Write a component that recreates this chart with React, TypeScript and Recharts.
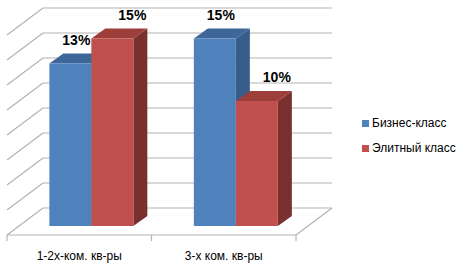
import React from 'react';
import { BarChart, Bar, XAxis, YAxis, CartesianGrid, LabelList } from 'recharts';

const categories = ['1-2х-ком. кв-ры', '3-х ком. кв-ры'];
const businessValues = [13, 15];
const eliteValues = [15, 10];
const seriesNames = ['Бизнес-класс', 'Элитный класс'];
const yTicks = [0, 2, 4, 6, 8, 10, 12, 14, 16];

const data = categories.map((name, i) => ({
  name,
  business: businessValues[i],
  elite: eliteValues[i],
}));

const W = 462;
const H = 268;
const MARGIN = { top: 26, right: 154, bottom: 12, left: 19 };
const XAXIS_H = 30;
const PLOT_BOTTOM = H - MARGIN.bottom - XAXIS_H;

// depth offsets relative to the bar plane
const BACK_DX = 24;
const BACK_DY = -18;
const FRONT_DX = -12;
const FRONT_DY = 9;
const BAR_DX = 14;
const BAR_DY = 10;

const GRID = '#b3b3b3';
const FONT = '"Liberation Sans", Arial, sans-serif';

const COLORS = {
  business: { front: '#4F81BD', top: '#3E6799', side: '#375D8B' },
  elite: { front: '#C0504D', top: '#9D3E3B', side: '#7A302E' },
};

function GridLine(props: any) {
  const { x1, x2, y1 } = props;
  const bx1 = x1 + BACK_DX;
  const bx2 = x2 + BACK_DX;
  const by = y1 + BACK_DY;
  const fx1 = x1 + FRONT_DX;
  const fx2 = x2 + FRONT_DX;
  const fy = y1 + FRONT_DY;
  const isFloor = Math.abs(y1 - PLOT_BOTTOM) < 0.6;
  const mid = (x1 + x2) / 2 + FRONT_DX;
  return (
    <g key={`g-${y1}`}>
      <line x1={bx1} y1={by} x2={bx2} y2={by} stroke={GRID} strokeWidth={1.2} />
      <line x1={fx1} y1={fy} x2={bx1} y2={by} stroke={GRID} strokeWidth={1.2} />
      {isFloor && (
        <g>
          <line x1={fx1} y1={fy} x2={fx2} y2={fy} stroke={GRID} strokeWidth={1.2} />
          <line x1={fx2} y1={fy} x2={bx2} y2={by} stroke={GRID} strokeWidth={1.2} />
          {[fx1, mid, fx2].map((tx) => (
            <line key={tx} x1={tx} y1={fy} x2={tx} y2={fy + 6} stroke={GRID} strokeWidth={1.2} />
          ))}
        </g>
      )}
    </g>
  );
}

function makeShape(c: { front: string; top: string; side: string }) {
  return (props: any) => {
    const { x, y, width, height } = props;
    if (width == null || height == null) return <g />;
    const top = `${x},${y} ${x + width},${y} ${x + width + BAR_DX},${y - BAR_DY} ${x + BAR_DX},${y - BAR_DY}`;
    const side = `${x + width},${y} ${x + width + BAR_DX},${y - BAR_DY} ${x + width + BAR_DX},${y + height - BAR_DY} ${x + width},${y + height}`;
    return (
      <g>
        <polygon points={side} fill={c.side} />
        <polygon points={top} fill={c.top} />
        <rect x={x} y={y} width={width} height={height} fill={c.front} />
      </g>
    );
  };
}

function makeLabel(shiftX: number) {
  return (props: any) => {
    const { x, y, width, value } = props;
    return (
      <text
        x={x + width / 2 + shiftX}
        y={y - 19}
        textAnchor="middle"
        fontFamily={FONT}
        fontWeight="bold"
        fontSize={14}
        fill="#000"
      >
        {`${value}%`}
      </text>
    );
  };
}

function CategoryTick(props: any) {
  const { x, payload } = props;
  return (
    <text
      x={x + FRONT_DX}
      y={PLOT_BOTTOM + 34}
      textAnchor="middle"
      fontFamily={FONT}
      fontSize={12}
      fill="#000"
    >
      {payload.value}
    </text>
  );
}

export default function App() {
  return (
    <div
      style={{
        position: 'absolute',
        left: 0,
        top: 0,
        width: W,
        height: H,
        background: '#fff',
        fontFamily: FONT,
      }}
    >
      <BarChart
        width={W}
        height={H}
        data={data}
        margin={MARGIN}
        barCategoryGap="21%"
        barGap={0}
      >
        <CartesianGrid vertical={false} horizontal={GridLine as any} />
        <XAxis
          dataKey="name"
          height={XAXIS_H}
          axisLine={false}
          tickLine={false}
          tick={<CategoryTick />}
          interval={0}
        />
        <YAxis hide domain={[0, 16]} ticks={yTicks} interval={0} />
        <Bar
          dataKey="business"
          name={seriesNames[0]}
          isAnimationActive={false}
          shape={makeShape(COLORS.business)}
        >
          <LabelList dataKey="business" content={makeLabel(6)} />
        </Bar>
        <Bar
          dataKey="elite"
          name={seriesNames[1]}
          isAnimationActive={false}
          shape={makeShape(COLORS.elite)}
        >
          <LabelList dataKey="elite" content={makeLabel(20)} />
        </Bar>
      </BarChart>
      <div style={{ position: 'absolute', left: 362, top: 115, fontSize: 12, color: '#000' }}>
        {seriesNames.map((n, i) => (
          <div key={n} style={{ display: 'flex', alignItems: 'center', height: 16, marginBottom: i === 0 ? 9 : 0 }}>
            <span
              style={{
                display: 'inline-block',
                width: 7,
                height: 7,
                background: i === 0 ? COLORS.business.front : COLORS.elite.front,
                marginRight: 3,
              }}
            />
            <span style={{ whiteSpace: 'nowrap' }}>{n}</span>
          </div>
        ))}
      </div>
    </div>
  );
}
